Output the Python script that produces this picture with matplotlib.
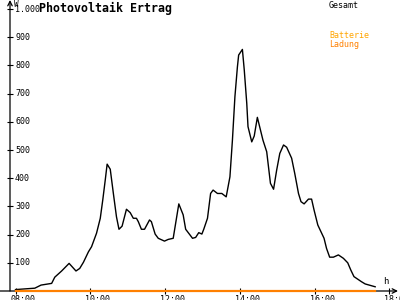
import matplotlib
matplotlib.use("Agg")
import matplotlib.pyplot as plt
import matplotlib.transforms as mtransforms

# ---- data ----
minutes_after_8 = [0, 31, 41, 58, 63, 74, 86, 97, 103, 109, 117, 122, 130, 136, 140, 144,
                   147, 152, 157, 162, 166, 171, 178, 184, 189, 194, 197, 202, 207, 215,
                   218, 224, 229, 239, 245, 253, 262, 269, 273, 284, 289, 294, 299, 302,
                   308, 313, 317, 324, 331, 338, 344, 348, 352, 356, 358, 364, 367, 371,
                   373, 379, 383, 388, 393, 397, 403, 409, 414, 419, 424, 430, 435, 443,
                   448, 454, 458, 463, 470, 475, 479, 485, 495, 499, 504, 510, 518, 526,
                   533, 538, 543, 555, 561, 577]
gesamt = [5, 10, 21, 27, 49, 71, 98, 71, 80, 102, 139, 157, 205, 258, 323, 394,
          450, 432, 346, 263, 219, 230, 290, 278, 258, 258, 246, 219, 219, 252,
          246, 202, 187, 177, 183, 187, 309, 270, 219, 187, 190, 207, 202, 219,
          258, 346, 358, 346, 346, 334, 405, 535, 689, 795, 837, 857, 784, 666,
          583, 529, 550, 616, 571, 535, 494, 382, 361, 429, 488, 518, 510, 471,
          417, 346, 317, 309, 326, 326, 287, 234, 187, 151, 120, 120, 128, 116,
          100, 74, 51, 33, 25, 15]
batterie_ladung = [0] * len(minutes_after_8)

y_ticks = [100, 200, 300, 400, 500, 600, 700, 800, 900, 1000]
y_labels = ["100", "200", "300", "400", "500", "600", "700", "800", "900", "1.000"]
x_ticks = [8, 10, 12, 14, 16, 18]
x_labels = ["08:00", "10:00", "12:00", "14:00", "16:00", "18:00"]

title = "Photovoltaik Ertrag"
series_names = ["Gesamt", "Batterie", "Ladung"]

hours = [8 + m / 60 for m in minutes_after_8]

# ---- figure ----
W, H = 400, 300
fig = plt.figure(figsize=(4, 3), dpi=100)
ax = fig.add_axes([10 / W, 9 / H, 388 / W, 291 / H])
ax.set_xlim(7.8529, 18.2273)
ax.set_ylim(0, 1032.3)
for s in ax.spines.values():
    s.set_visible(False)

mono = "DejaVu Sans Mono"

ax.plot(hours, gesamt, color="black", lw=1.0, zorder=3, clip_on=False)
ax.plot(hours, batterie_ladung, color="#ff8000", lw=1.6, zorder=4, clip_on=False)

# axes with arrows
ax.annotate("", xy=(1.0, 0), xytext=(-10 / 388, 0), xycoords="axes fraction",
            arrowprops=dict(arrowstyle="->", lw=0.9, color="black", shrinkA=0, shrinkB=0,
                            mutation_scale=8), annotation_clip=False, zorder=2)
ax.annotate("", xy=(0, 1.0), xytext=(0, 0), xycoords="axes fraction",
            arrowprops=dict(arrowstyle="->", lw=0.9, color="black", shrinkA=0, shrinkB=0,
                            mutation_scale=8), annotation_clip=False, zorder=2)

# ticks
ax.set_yticks(y_ticks)
ax.set_yticklabels([])
ax.set_xticks(x_ticks)
ax.set_xticklabels(x_labels, fontfamily=mono, fontsize=6)
ax.tick_params(axis="both", direction="inout", length=4.3, width=0.8, color="black")
ax.tick_params(axis="x", pad=0.5)
shift = mtransforms.ScaledTranslation(-5 / 100, 0, fig.dpi_scale_trans)
for lab in ax.get_xticklabels():
    lab.set_horizontalalignment("left")
    lab.set_transform(lab.get_transform() + shift)

ytr = ax.get_yaxis_transform() + mtransforms.ScaledTranslation(5 / 100, 0, fig.dpi_scale_trans)
for v, lab in zip(y_ticks, y_labels):
    ax.text(0, v, lab, transform=ytr, ha="left", va="center", fontfamily=mono, fontsize=6)

# texts
fig.text(39 / W, 1 - 2 / H, title, ha="left", va="top", fontfamily=mono,
         fontweight="bold", fontsize=8.4)
fig.text(14 / W, 1 - 0 / H, "W", ha="left", va="top", fontfamily=mono, fontsize=5.5)
fig.text(383 / W, 1 - 277 / H, "h", ha="left", va="top", fontfamily=mono, fontsize=6.5)
fig.text(329 / W, 1 - 5 / H, series_names[0], ha="left", va="center", fontfamily=mono,
         fontsize=6, color="black")
fig.text(329 / W, 1 - 36 / H, series_names[1], ha="left", va="center", fontfamily=mono,
         fontsize=6, color="#ffa500")
fig.text(329 / W, 1 - 44 / H, series_names[2], ha="left", va="center", fontfamily=mono,
         fontsize=6, color="#ff8000")

fig.savefig("out.png", dpi=100)
